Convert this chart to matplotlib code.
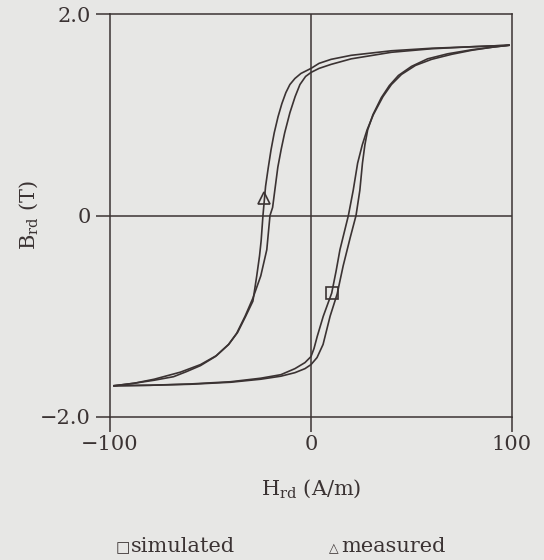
import matplotlib
matplotlib.use('Agg')
import matplotlib.pyplot as plt

# measured loop (triangle)
meas_down_H = [98.5, 80, 60, 40, 20, 10, 4, 0, -5, -8, -10.5, -12.5, -14.5, -16.4, -18.3, -19.9, -21.3, -22.6, -23.9, -24.8, -25.6, -27, -28.9, -32.5, -36.5, -41, -47.6, -55, -62, -68.4, -78, -88, -98]
meas_down_B = [1.69, 1.675, 1.66, 1.635, 1.59, 1.55, 1.51, 1.46, 1.41, 1.36, 1.30, 1.22, 1.11, 0.98, 0.82, 0.65, 0.47, 0.29, 0.0, -0.25, -0.40, -0.60, -0.85, -1.0, -1.16, -1.28, -1.40, -1.49, -1.55, -1.60, -1.635, -1.665, -1.69]
meas_up_H = [-98, -80, -60, -40, -25, -15, -8, -3, 0, 3, 6, 9.5, 13, 16, 19.5, 22.4, 24.3, 25.6, 26.8, 28.2, 30.8, 35, 39, 43.5, 50, 58, 68, 80, 90, 98.5]
meas_up_B = [-1.69, -1.685, -1.675, -1.655, -1.625, -1.595, -1.56, -1.52, -1.48, -1.41, -1.28, -1.0, -0.78, -0.50, -0.22, 0.0, 0.25, 0.52, 0.70, 0.85, 1.0, 1.17, 1.29, 1.39, 1.48, 1.555, 1.605, 1.645, 1.67, 1.69]

# simulated loop (square)
sim_down_H = [98.5, 80, 60, 40, 20, 10, 4, 0, -2.7, -5.5, -7.9, -10.5, -13.1, -14.8, -16.5, -18, -19.1, -20.4, -22, -25, -28.9, -32.8, -37, -41, -47, -55, -65, -78, -88, -98]
sim_down_B = [1.69, 1.675, 1.655, 1.62, 1.555, 1.50, 1.46, 1.42, 1.38, 1.30, 1.18, 1.02, 0.82, 0.66, 0.48, 0.25, 0.08, 0.0, -0.34, -0.60, -0.82, -1.0, -1.17, -1.28, -1.39, -1.48, -1.555, -1.625, -1.665, -1.69]
sim_up_H = [-98, -80, -60, -40, -25, -15, -8, -3, 0, 1.5, 3.1, 6.1, 10.3, 12.5, 14.4, 16.5, 18.6, 21, 23.2, 25.5, 27.9, 31, 35.8, 40, 45, 52, 60, 70, 80, 90, 98.5]
sim_up_B = [-1.69, -1.685, -1.672, -1.65, -1.615, -1.58, -1.52, -1.46, -1.40, -1.32, -1.2, -1.0, -0.77, -0.55, -0.34, -0.17, 0.0, 0.25, 0.52, 0.70, 0.85, 1.0, 1.18, 1.30, 1.40, 1.49, 1.55, 1.60, 1.64, 1.67, 1.69]

tri_pt = (-23.4, 0.17)
sq_pt = (10.4, -0.77)

x_ticks = [-100, 0, 100]
x_ticklabels = ['\u2212100', '0', '100']
y_ticks = [-2.0, 0.0, 2.0]
y_ticklabels = ['\u22122.0', '0', '2.0']

ink = '#3b3333'
paper = '#e7e7e5'

plt.rcParams['font.family'] = ['DejaVu Serif', 'DejaVu Sans']
plt.rcParams['mathtext.fontset'] = 'dejavuserif'

fig = plt.figure(figsize=(5.44, 5.6), dpi=100, facecolor=paper)
ax = fig.add_axes([110/544, 1 - 417/560, 402/544, 403/560])
ax.set_facecolor(paper)

for h, b in [(meas_down_H, meas_down_B), (meas_up_H, meas_up_B),
             (sim_down_H, sim_down_B), (sim_up_H, sim_up_B)]:
    ax.plot(h, b, color=ink, lw=1.2)

ax.plot(*tri_pt, marker='^', ms=9, mfc='none', mec=ink, mew=1.2)
ax.plot(*sq_pt, marker='s', ms=9, mfc='none', mec=ink, mew=1.2)

ax.axhline(0, color=ink, lw=1.1)
ax.axvline(0, color=ink, lw=1.1)

ax.set_xlim(-100, 100)
ax.set_ylim(-2.0, 2.0)
ax.set_xticks(x_ticks)
ax.set_xticklabels(x_ticklabels)
ax.set_yticks(y_ticks)
ax.set_yticklabels(y_ticklabels)
ax.tick_params(axis='x', direction='out', length=11, width=1.1, color=ink,
               labelsize=15, labelcolor=ink, pad=2)
ax.tick_params(axis='y', direction='out', length=10, width=1.1, color=ink,
               labelsize=15, labelcolor=ink, pad=4)
for s in ax.spines.values():
    s.set_color(ink)
    s.set_linewidth(1.1)

ax.set_xlabel('H$_{\\rm rd}$ (A/m)', fontsize=15, color=ink, labelpad=17)
ax.set_ylabel('B$_{\\rm rd}$ (T)', fontsize=15, color=ink, labelpad=0)

fig.text(0.212, 0.014, '\u25a1', fontsize=11, color=ink, va='baseline')
fig.text(0.240, 0.014, 'simulated', fontsize=15, color=ink, va='baseline')
fig.text(0.604, 0.014, '\u25b3', fontsize=9, color=ink, va='baseline')
fig.text(0.628, 0.014, 'measured', fontsize=15, color=ink, va='baseline')

fig.savefig('out.png', dpi=100, facecolor=paper)
